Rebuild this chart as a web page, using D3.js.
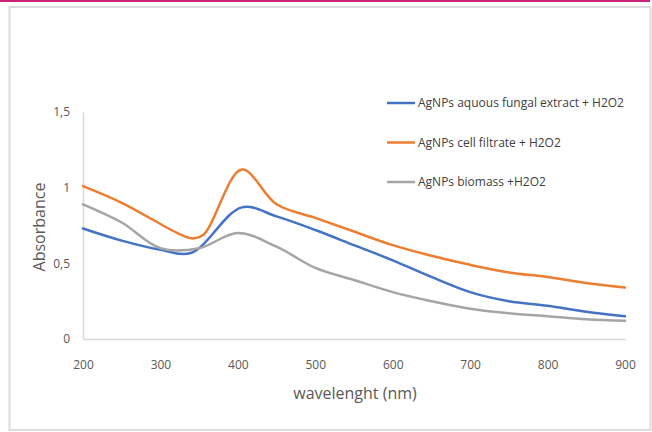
<!DOCTYPE html>
<html>
<head>
<meta charset="utf-8">
<script src="https://cdn.jsdelivr.net/npm/d3@7"></script>
<style>
  html, body { margin: 0; padding: 0; background: #fff; }
  svg { display: block; }
</style>
</head>
<body>
<svg id="chart" width="652" height="432"></svg>
<script>
// ---- data ----
const wavelengths = [200, 250, 300, 340, 405, 450, 500, 550, 600, 650, 700, 750, 800, 850, 900];
const aqueousExtract = [0.73, 0.65, 0.59, 0.57, 0.87, 0.81, 0.72, 0.62, 0.52, 0.41, 0.31, 0.25, 0.22, 0.18, 0.15];
const filtrateNm     = [200, 250, 300, 322, 340, 356, 405, 450, 500, 550, 600, 650, 700, 750, 800, 850, 900];
const cellFiltrate   = [1.01, 0.90, 0.76, 0.70, 0.665, 0.69, 1.12, 0.89, 0.80, 0.71, 0.62, 0.55, 0.49, 0.44, 0.41, 0.37, 0.34];
const biomassNm      = [200, 250, 300, 350, 400, 450, 500, 550, 600, 650, 700, 750, 800, 850, 900];
const biomass        = [0.89, 0.77, 0.60, 0.60, 0.70, 0.61, 0.47, 0.39, 0.31, 0.25, 0.20, 0.17, 0.15, 0.13, 0.12];
const seriesNames = ["AgNPs aquous fungal extract + H2O2", "AgNPs cell filtrate + H2O2", "AgNPs biomass +H2O2"];
const seriesColors = ["#4472C4", "#ED7D31", "#A5A5A5"];
const xTicks = [200, 300, 400, 500, 600, 700, 800, 900];
const yTicks = [0, 0.5, 1, 1.5];
const yTickLabels = ["0", "0,5", "1", "1,5"];

const series = [
  { name: seriesNames[0], color: seriesColors[0], pts: wavelengths.map((w, i) => [w, aqueousExtract[i]]) },
  { name: seriesNames[1], color: seriesColors[1], pts: filtrateNm.map((w, i) => [w, cellFiltrate[i]]) },
  { name: seriesNames[2], color: seriesColors[2], pts: biomassNm.map((w, i) => [w, biomass[i]]) }
];

const FONT = "'Open Sans', sans-serif";
const svg = d3.select("#chart");

// top pink rule and frame
svg.append("rect").attr("x", 0).attr("y", 0).attr("width", 650).attr("height", 2).attr("fill", "#C9237B");
svg.append("rect").attr("x", 9.5).attr("y", 7).attr("width", 641).attr("height", 423)
  .attr("fill", "#fff").attr("stroke", "#dcdcdc").attr("stroke-width", 2);

const x = d3.scaleLinear().domain([200, 900]).range([83, 625]);
const y = d3.scaleLinear().domain([0, 1.5]).range([339, 112]);

// axes
const xAxis = svg.append("g").attr("transform", "translate(0,339)")
  .call(d3.axisBottom(x).tickValues(xTicks).tickSize(0).tickPadding(21).tickFormat(d3.format("d")));
const yAxis = svg.append("g").attr("transform", "translate(83,0)")
  .call(d3.axisLeft(y).tickValues(yTicks).tickSize(0).tickPadding(13).tickFormat((d, i) => yTickLabels[i]));
[xAxis, yAxis].forEach(g => {
  g.select(".domain").attr("stroke", "#d9d9d9").attr("stroke-width", 1.5);
  g.selectAll("text").attr("fill", "#595959").style("font-family", FONT).style("font-size", "12px");
});

// lines
const line = d3.line().x(d => x(d[0])).y(d => y(d[1])).curve(d3.curveCatmullRom.alpha(0.5));
svg.append("g").selectAll("path").data(series).join("path")
  .attr("d", d => line(d.pts))
  .attr("fill", "none")
  .attr("stroke", d => d.color)
  .attr("stroke-width", 2.5)
  .attr("stroke-linejoin", "round")
  .attr("stroke-linecap", "round");

// axis titles
svg.append("text").attr("x", 355).attr("y", 399).attr("text-anchor", "middle")
  .attr("fill", "#595959").style("font-family", FONT).style("font-size", "16px")
  .text("wavelenght (nm)");
svg.append("text").attr("transform", "translate(45,227) rotate(-90)").attr("text-anchor", "middle")
  .attr("fill", "#595959").style("font-family", FONT).style("font-size", "16px")
  .text("Absorbance");

// legend
const legend = svg.append("g").selectAll("g").data(series).join("g")
  .attr("transform", (d, i) => `translate(387,${103 + i * 39.5})`);
legend.append("line").attr("x1", 0).attr("x2", 28).attr("y1", 0).attr("y2", 0)
  .attr("stroke", d => d.color).attr("stroke-width", 2.5);
legend.append("text").attr("x", 31).attr("y", 0).attr("dy", "0.35em")
  .attr("fill", "#404040").style("font-family", FONT).style("font-size", "12px")
  .text(d => d.name);
</script>
</body>
</html>
